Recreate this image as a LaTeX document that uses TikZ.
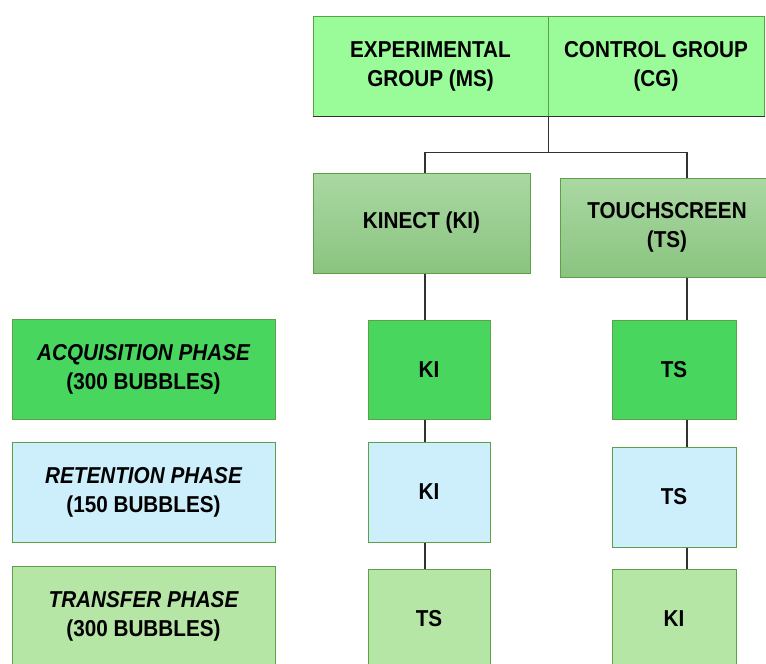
\documentclass[tikz,border=0pt]{standalone}
\usepackage{fontspec}
\setmainfont{Liberation Sans}[FakeStretch=0.9]
\definecolor{topgreen}{RGB}{153,252,153}
\definecolor{acqgreen}{RGB}{72,214,94}
\definecolor{retblue}{RGB}{205,238,251}
\definecolor{trgreen}{RGB}{182,230,165}
\definecolor{boxborder}{RGB}{92,160,72}
\definecolor{gradtop}{RGB}{170,216,162}
\definecolor{gradbot}{RGB}{138,196,128}
\definecolor{connc}{RGB}{50,50,50}
\begin{document}
\begin{tikzpicture}[x=1pt,y=-1pt,
  box/.style={draw=boxborder, line width=1pt, align=center, inner sep=0pt,
    font=\bfseries\fontsize{23}{29}\selectfont},
  phase/.style={box, minimum width=263pt, minimum height=100pt},
  cell/.style={box, minimum width=122pt, minimum height=99pt},
  devbox/.style={box, top color=gradtop, bottom color=gradbot, minimum height=100pt},
  conn/.style={draw=connc, line width=1.5pt}]
\clip (0,0) rectangle (766,664);
\fill[white] (0,0) rectangle (766,664);
% top group box
\node[box, fill=topgreen, minimum width=235pt, minimum height=100pt] (exp) at (430.5,66) {EXPERIMENTAL\\GROUP (MS)};
\node[box, fill=topgreen, minimum width=216pt, minimum height=100pt] (ctrl) at (656,66) {CONTROL GROUP\\(CG)};
\draw[connc, line width=1.5pt] (exp.south west) -- (ctrl.south east);
% device boxes
\node[devbox, minimum width=217pt] (kinect) at (421.5,223) {KINECT (KI)};
\node[devbox, minimum width=214pt, minimum height=99pt] (touch) at (667,227.5) {TOUCHSCREEN\\(TS)};
% phase labels
\node[phase, fill=acqgreen] (acq) at (143.5,369.5) {\itshape ACQUISITION PHASE\\(300 BUBBLES)};
\node[phase, fill=retblue] (ret) at (143.5,492) {\itshape RETENTION PHASE\\(150 BUBBLES)};
\node[phase, fill=trgreen, minimum height=101pt] (tra) at (143.5,616.5) {\itshape TRANSFER PHASE\\(300 BUBBLES)};
% cells
\node[cell, fill=acqgreen] (kiA) at (429,369.5) {KI};
\node[cell, fill=retblue, minimum height=100pt] (kiR) at (429,492) {KI};
\node[cell, fill=trgreen, minimum height=100pt] (tsT) at (429,619) {TS};
\node[cell, fill=acqgreen, minimum width=124pt] (tsA) at (674,369.5) {TS};
\node[cell, fill=retblue, minimum width=124pt, minimum height=100pt] (tsR) at (674,497) {TS};
\node[cell, fill=trgreen, minimum width=124pt, minimum height=100pt] (kiT) at (674,619) {KI};
% connectors
\coordinate (lx) at (425,0);
\coordinate (rx) at (687,0);
\draw[conn] (exp.south east) -- ++(0,36) coordinate (sp);
\draw[conn] (kinect.north -| lx) |- (sp) -| (touch.north -| rx);
\draw[conn] (kinect.south -| lx) -- (kiA.north -| lx);
\draw[conn] (kiA.south -| lx) -- (kiR.north -| lx);
\draw[conn] (kiR.south -| lx) -- (tsT.north -| lx);
\draw[conn] (touch.south -| rx) -- (tsA.north -| rx);
\draw[conn] (tsA.south -| rx) -- (tsR.north -| rx);
\draw[conn] (tsR.south -| rx) -- (kiT.north -| rx);
\end{tikzpicture}
\end{document}
